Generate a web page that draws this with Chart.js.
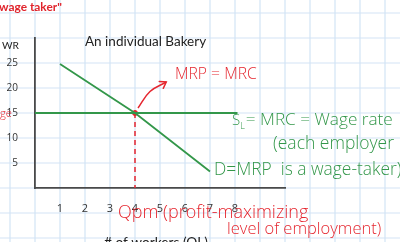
<!DOCTYPE html>
<html>
<head>
<meta charset="utf-8">
<script src="https://cdn.jsdelivr.net/npm/chart.js@4.4.1/dist/chart.umd.min.js"></script>
<style>
  html, body { margin: 0; padding: 0; background: #fff; }
  #wrap { width: 400px; height: 242px; }
</style>
</head>
<body>
<div id="wrap"><canvas id="canvas_1" width="400" height="242"></canvas></div>
<script>
// data
const workerTicks = [1, 2, 3, 4, 5, 6, 7, 8];
const wageTicks = [5, 10, 15, 20, 25];
const supplyX = [0, 8.1];
const supplyY = [15, 15];
const mrpX = [1, 4, 7];
const mrpY = [24.8, 15, 3.3];
const qpmX = [4, 4];
const qpmY = [15, 0];
const eqX = [4];
const eqY = [15];
const arrowX = [4.12, 4.6, 5.25];
const arrowY = [16, 19.3, 21.2];

const RED = '#e5262f';
const GREEN = '#33974a';
const HAND = '"Open Sans", sans-serif';
const TYPED = 'Lato, sans-serif';

function pts(xs, ys) {
  return xs.map((x, i) => ({ x: x, y: ys[i] }));
}

// blue squared paper behind everything, lined up with the axes
const paperGrid = {
  id: 'paperGrid',
  beforeDraw(chart) {
    const ctx = chart.ctx, sx = chart.scales.x, sy = chart.scales.y;
    const x0 = sx.getPixelForValue(0), dx = sx.getPixelForValue(1) - x0;
    const y0 = sy.getPixelForValue(0), dy = y0 - sy.getPixelForValue(5);
    ctx.save();
    ctx.fillStyle = '#fff';
    ctx.fillRect(0, 0, chart.width, chart.height);
    ctx.strokeStyle = '#d3e4f6';
    ctx.lineWidth = 1.2;
    ctx.beginPath();
    for (let px = x0 % dx; px < chart.width; px += dx) {
      ctx.moveTo(px, 0); ctx.lineTo(px, chart.height);
    }
    for (let py = y0 % dy; py < chart.height; py += dy) {
      ctx.moveTo(0, py); ctx.lineTo(chart.width, py);
    }
    ctx.stroke();
    ctx.restore();
  }
};

// open arrow head at the end of the MRP = MRC pointer
const arrowHead = {
  id: 'arrowHead',
  afterDatasetsDraw(chart) {
    const meta = chart.getDatasetMeta(3);
    const n = meta.data.length;
    const a = meta.data[n - 2], b = meta.data[n - 1];
    const ang = Math.atan2(b.y - a.y, b.x - a.x);
    const ctx = chart.ctx;
    ctx.save();
    ctx.strokeStyle = RED;
    ctx.lineWidth = 1.5;
    ctx.lineCap = 'round';
    ctx.beginPath();
    ctx.moveTo(b.x - 7 * Math.cos(ang - 0.6), b.y - 7 * Math.sin(ang - 0.6));
    ctx.lineTo(b.x, b.y);
    ctx.lineTo(b.x - 7 * Math.cos(ang + 0.6), b.y - 7 * Math.sin(ang + 0.6));
    ctx.stroke();
    ctx.restore();
  }
};

function fitText(ctx, txt, x, y, w, color, family, weight) {
  ctx.font = weight + ' 20px ' + family;
  const size = 20 * w / ctx.measureText(txt).width;
  ctx.font = weight + ' ' + size.toFixed(1) + 'px ' + family;
  ctx.fillStyle = color;
  ctx.fillText(txt, x, y);
}

// the notes written round the graph
const notes = {
  id: 'notes',
  afterDraw(chart) {
    const ctx = chart.ctx;
    ctx.save();
    ctx.textBaseline = 'middle';
    ctx.textAlign = 'left';
    fitText(ctx, 'wage taker"', -1, 7, 63, '#e0242c', TYPED, 'bold');
    fitText(ctx, 'WR', 2, 46, 17, '#222', TYPED, 'normal');
    fitText(ctx, 'An individual Bakery', 85, 42, 121, '#222', TYPED, 'normal');
    fitText(ctx, '# of workers (QL)', 104, 243, 104, '#222', TYPED, 'normal');
    fitText(ctx, 'ge', 0, 114, 12, RED, HAND, '300');

    fitText(ctx, 'MRP = MRC', 175, 75, 82, RED, HAND, '300');
    fitText(ctx, 'Qpm (profit-maximizing', 118, 213, 190, RED, HAND, '300');
    fitText(ctx, 'level of employment)', 227, 229, 154, RED, HAND, '300');

    // S_L = MRC = Wage rate
    ctx.fillStyle = GREEN;
    ctx.font = '300 15px ' + HAND;
    ctx.fillText('S', 232, 121);
    let x = 232 + ctx.measureText('S').width;
    ctx.font = '300 9px ' + HAND;
    ctx.fillText('L', x, 126);
    x += ctx.measureText('L').width + 1;
    fitText(ctx, '= MRC = Wage rate', x, 120, 393 - x, GREEN, HAND, '300');
    fitText(ctx, '(each employer', 273, 144, 121, GREEN, HAND, '300');
    fitText(ctx, 'D=MRP  is a wage-taker)', 214, 170, 188, GREEN, HAND, '300');
    ctx.restore();
  }
};

const canvas = document.getElementById('canvas_1');
const ctx = canvas.getContext('2d');
const chart = new Chart(ctx, {
  type: 'scatter',
  data: {
    datasets: [{
      // S_L = MRC
      data: pts(supplyX, supplyY),
      showLine: true,
      borderColor: GREEN,
      borderWidth: 1.8,
      pointRadius: 0
    }, {
      // D = MRP
      data: pts(mrpX, mrpY),
      showLine: true,
      borderColor: GREEN,
      borderWidth: 1.8,
      pointRadius: 0
    }, {
      // Qpm dashed drop line
      data: pts(qpmX, qpmY),
      showLine: true,
      borderColor: RED,
      borderWidth: 1.5,
      borderDash: [5, 4],
      pointRadius: 0
    }, {
      // pointer to MRP = MRC
      data: pts(arrowX, arrowY),
      showLine: true,
      borderColor: RED,
      borderWidth: 1.5,
      tension: 0.4,
      pointRadius: 0
    }, {
      // equilibrium dot
      data: pts(eqX, eqY),
      backgroundColor: RED,
      borderColor: RED,
      pointRadius: 2.5
    }]
  },
  options: {
    responsive: false,
    devicePixelRatio: 1,
    animation: false,
    layout: {
      padding: { top: 38, right: 115, bottom: 0, left: 0 }
    },
    plugins: {
      legend: { display: false },
      tooltip: { enabled: false }
    },
    scales: {
      x: {
        type: 'linear',
        min: 0,
        max: 10,
        afterFit: function (s) { s.height = 54; },
        grid: { display: false },
        border: { display: true, color: '#4a4a4a', width: 1.8 },
        ticks: {
          stepSize: 1,
          autoSkip: false,
          maxRotation: 0,
          padding: 6,
          color: '#333',
          font: { family: HAND, size: 11 },
          callback: v => workerTicks.includes(v) ? String(v) : ''
        }
      },
      y: {
        type: 'linear',
        min: 0,
        max: 30,
        afterFit: function (s) { s.width = 35; },
        grid: { display: false },
        border: { display: true, color: '#4a4a4a', width: 1.8 },
        ticks: {
          stepSize: 5,
          autoSkip: false,
          padding: 9,
          color: '#333',
          font: { family: HAND, size: 10 },
          callback: v => wageTicks.includes(v) ? String(v) : ''
        }
      }
    }
  },
  plugins: [paperGrid, arrowHead, notes]
});
</script>
</body>
</html>
